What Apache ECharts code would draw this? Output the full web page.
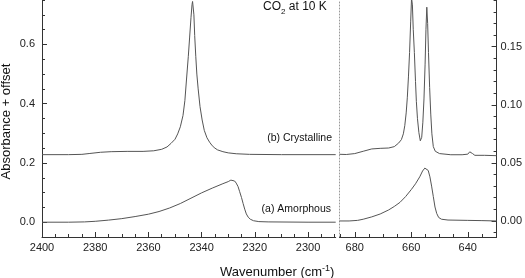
<!DOCTYPE html>
<html>
<head>
<meta charset="utf-8">
<script src="https://cdn.jsdelivr.net/npm/echarts@6/dist/echarts.min.js"></script>
<style>
html,body{margin:0;padding:0;background:#fff;}
#chart{width:525px;height:278px;}
</style>
</head>
<body>
<div id="chart"></div>
<script>
// ---------- data ----------
// nu3 stretch region, (b) crystalline
const stretchCrystWn  = [2400,2390,2385,2382,2378,2374,2368,2362,2358,2355,2353,2351.5,2350,2349,2348,2347,2346.3,2345.7,2345,2344.5,2344,2343.6,2343.4,2343.2,2342.9,2342.6,2342.2,2341.8,2341.3,2340.6,2339.8,2339,2338,2337,2336,2335,2334,2332,2330,2327,2322,2310,2289.6];
const stretchCrystAbs = [0.228,0.228,0.229,0.232,0.236,0.238,0.239,0.239,0.241,0.246,0.254,0.266,0.280,0.298,0.322,0.360,0.410,0.480,0.560,0.625,0.690,0.735,0.745,0.740,0.700,0.630,0.560,0.500,0.450,0.390,0.345,0.310,0.285,0.270,0.258,0.250,0.244,0.238,0.234,0.231,0.229,0.228,0.228];
// nu3 stretch region, (a) amorphous
const stretchAmorWn  = [2400,2390,2384,2380,2375,2370,2365,2360,2356,2352,2348,2344,2340,2336,2332,2330,2329,2328.3,2327.6,2327,2326.3,2325.7,2325,2324.4,2323.8,2323.2,2322.5,2321.7,2320.5,2318.5,2315,2300,2289.6];
const stretchAmorAbs = [0.000,0.000,0.001,0.003,0.007,0.012,0.019,0.027,0.036,0.048,0.063,0.081,0.099,0.115,0.130,0.137,0.142,0.143,0.139,0.132,0.120,0.103,0.083,0.063,0.044,0.028,0.017,0.010,0.005,0.002,0.001,0.000,0.000];
// nu2 bending region, (b) crystalline
const bendCrystWn  = [685.4,683,680,677,674,671,668,666,664.5,663.5,662.8,662.3,661.8,661.4,661,660.6,660.2,659.9,659.6,659.3,658.9,658.5,658.2,657.8,657.3,656.8,656.3,655.9,655.5,655.1,654.8,654.5,654.2,653.9,653.5,653.1,652.7,652.2,651.5,650,646,642,640,639.3,638.8,638.3,637.5,634,629.8];
const bendCrystAbs = [0.0574,0.0572,0.0580,0.0600,0.0620,0.0625,0.0628,0.0640,0.0670,0.0700,0.0750,0.0820,0.0930,0.1060,0.1240,0.1450,0.1720,0.1920,0.1860,0.1650,0.1450,0.1200,0.1030,0.0880,0.0760,0.0690,0.0720,0.0850,0.1050,0.1350,0.1650,0.1840,0.1700,0.1450,0.1150,0.0920,0.0750,0.0640,0.0600,0.0580,0.0570,0.0570,0.0575,0.0595,0.0605,0.0580,0.0565,0.0565,0.0562];
// nu2 bending region, (a) amorphous
const bendAmorWn  = [685.4,682,679,677,674,671,668,666,664,662,660,658.5,657,656,655.2,654.6,654,653.4,652.8,652.2,651.6,651,650.3,649.3,647,640,635,629.8];
const bendAmorAbs = [0.0000,0.0000,0.0005,0.0015,0.0035,0.0060,0.0095,0.0125,0.0160,0.0210,0.0270,0.0320,0.0380,0.0430,0.0455,0.0460,0.0435,0.0380,0.0300,0.0210,0.0120,0.0065,0.0030,0.0015,0.0008,0.0005,0.0003,0.0000];

// tick labels
const leftXTicks  = [2400,2380,2360,2340,2320,2300];
const rightXTicks = [680,660,640];
const leftYTicks  = [0.0,0.2,0.4,0.6];
const rightYTicks = [0.00,0.05,0.10,0.15];

// ---------- chart ----------
function zip(a,b){ return a.map((v,i)=>[v,b[i]]); }
function minorVals(lo,hi,step,majors){
  const out=[]; const n=Math.round((hi-lo)/step);
  for(let i=0;i<=n;i++){ const v=+(lo+i*step).toFixed(6); if(!majors.some(m=>Math.abs(m-v)<1e-9)) out.push(v); }
  return out;
}
const axisCol = '#333';
const lineCol = '#555';
const font = 'Liberation Sans, Arial, sans-serif';

const L = {min:2289.6, max:2400};
const R = {min:629.8, max:685.4};
const LY = {min:-0.05, max:0.75};
const RY = {min:-0.0138, max:0.1902};

function xMajor(grid, ext, ticks){
  return {gridIndex:grid,type:'value',min:ext.min,max:ext.max,inverse:true,position:'bottom',offset:0,
    axisLine:{show:true,onZero:false,lineStyle:{color:axisCol,width:1}},
    axisTick:{show:true,inside:true,length:5,customValues:ticks,lineStyle:{color:axisCol}},
    axisLabel:{show:true,customValues:ticks,fontSize:11,fontFamily:font,color:'#222',margin:5,
      formatter:v=>String(Math.round(v))},
    splitLine:{show:false}};
}
function xMinor(grid, ext, vals){
  return {gridIndex:grid,type:'value',min:ext.min,max:ext.max,inverse:true,position:'bottom',offset:0,
    axisLine:{show:false,onZero:false},
    axisTick:{show:true,inside:true,length:3,customValues:vals,lineStyle:{color:axisCol}},
    axisLabel:{show:false},splitLine:{show:false}};
}
function yMajor(grid, ext, ticks, pos, dec, margin){
  return {gridIndex:grid,type:'value',min:ext.min,max:ext.max,position:pos,offset:0,
    axisLine:{show:true,onZero:false,lineStyle:{color:axisCol,width:1}},
    axisTick:{show:true,inside:true,length:5,customValues:ticks,lineStyle:{color:axisCol}},
    axisLabel:{show:true,customValues:ticks,fontSize:11,fontFamily:font,color:'#222',margin:margin,
      formatter:v=>(+v).toFixed(dec)},
    splitLine:{show:false}};
}
function yMinor(grid, ext, vals, pos){
  return {gridIndex:grid,type:'value',min:ext.min,max:ext.max,position:pos,offset:0,
    axisLine:{show:false,onZero:false},
    axisTick:{show:true,inside:true,length:3,customValues:vals,lineStyle:{color:axisCol}},
    axisLabel:{show:false},splitLine:{show:false}};
}

const chart = echarts.init(document.getElementById('chart'), null, {renderer:'canvas'});
const option = {
  animation:false,
  backgroundColor:'#fff',
  grid:[
    {left:42, top:0, width:293.7, height:237, containLabel:false},
    {left:339.5, top:0, width:162.5, height:237, containLabel:false}
  ],
  xAxis:[
    xMajor(0,L,leftXTicks),
    xMinor(0,L,minorVals(2290,2400,5,leftXTicks)),
    xMajor(1,R,rightXTicks),
    xMinor(1,R,minorVals(630,685,5,rightXTicks))
  ],
  yAxis:[
    yMajor(0,LY,leftYTicks,'left',1,7),
    yMinor(0,LY,minorVals(-0.05,0.75,0.05,leftYTicks),'left'),
    yMajor(1,RY,rightYTicks,'right',2,4),
    yMinor(1,RY,minorVals(-0.01,0.19,0.01,rightYTicks),'right'),
    {gridIndex:1,type:'value',min:RY.min,max:RY.max,position:'left',offset:0,
     axisLine:{show:true,onZero:false,lineStyle:{color:'#999',width:1,type:[1,2]}},
     axisTick:{show:false},axisLabel:{show:false},splitLine:{show:false}}
  ],
  series:[
    {type:'line',xAxisIndex:0,yAxisIndex:0,data:zip(stretchCrystWn,stretchCrystAbs),showSymbol:false,symbol:'none',lineStyle:{color:lineCol,width:1},clip:true},
    {type:'line',xAxisIndex:0,yAxisIndex:0,data:zip(stretchAmorWn,stretchAmorAbs),showSymbol:false,symbol:'none',lineStyle:{color:lineCol,width:1},clip:true},
    {type:'line',xAxisIndex:2,yAxisIndex:2,data:zip(bendCrystWn,bendCrystAbs),showSymbol:false,symbol:'none',lineStyle:{color:lineCol,width:1},clip:true},
    {type:'line',xAxisIndex:2,yAxisIndex:2,data:zip(bendAmorWn,bendAmorAbs),showSymbol:false,symbol:'none',lineStyle:{color:lineCol,width:1},clip:true}
  ],
  graphic:[
    {type:'text',left:263,top:1,style:{
      text:'{a|CO}{s|2}{a| at 10 K}',
      rich:{a:{fontSize:12,fontFamily:font,fill:'#111',lineHeight:16,verticalAlign:'bottom'},
            s:{fontSize:8,fontFamily:font,fill:'#111',lineHeight:16,verticalAlign:'bottom',padding:[0,0,-3,0]}}}},
    {type:'text',right:193,top:133,style:{text:'(b) Crystalline',fontSize:10.5,fontFamily:font,fill:'#111'}},
    {type:'text',right:194,top:204,style:{text:'(a) Amorphous',fontSize:10.5,fontFamily:font,fill:'#111'}},
    {type:'text',left:220,top:261,style:{
      text:'{a|Wavenumber (cm}{s|-1}{a|)}',
      rich:{a:{fontSize:13,fontFamily:font,fill:'#111',lineHeight:18,verticalAlign:'bottom'},
            s:{fontSize:9,fontFamily:font,fill:'#111',lineHeight:18,verticalAlign:'top',padding:[3,0,0,0]}}}},
    {type:'text',x:6.5,y:121.5,rotation:Math.PI/2,style:{text:'Absorbance + offset',fontSize:13,fontFamily:font,fill:'#111',align:'center',verticalAlign:'middle'}}
  ]
};
chart.setOption(option);
</script>
</body>
</html>
